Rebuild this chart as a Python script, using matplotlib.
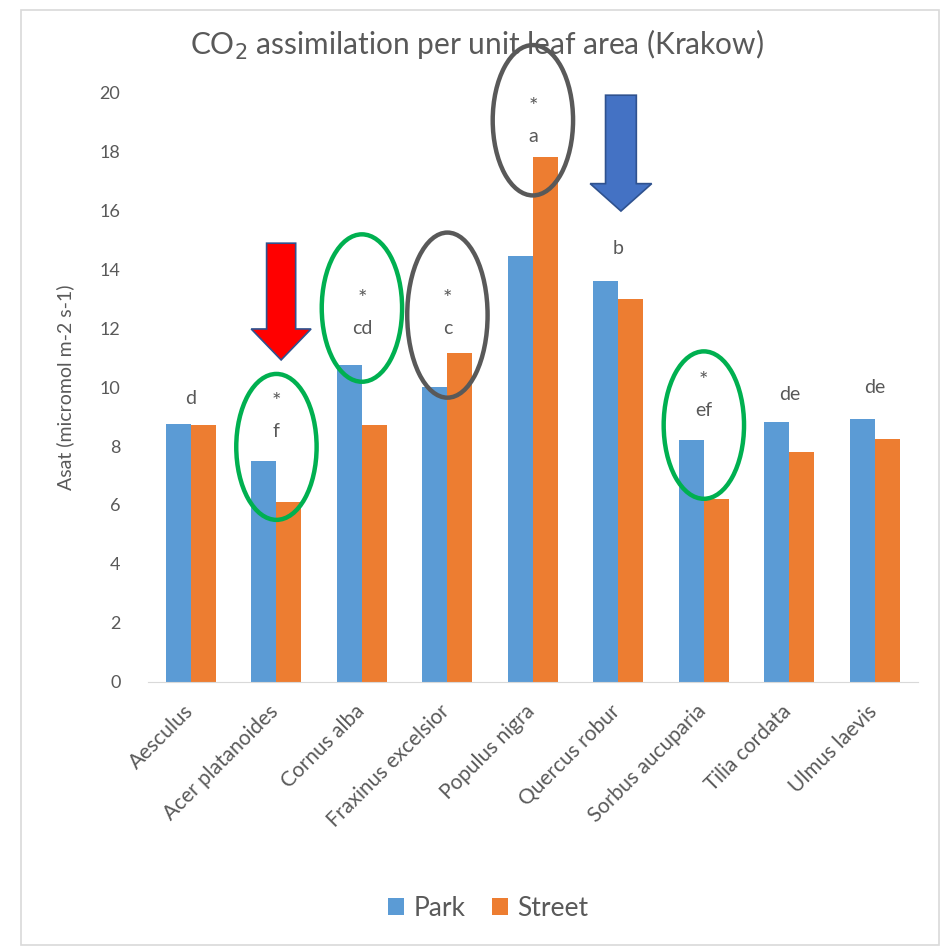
import matplotlib.pyplot as plt
import numpy as np
from matplotlib.patches import Ellipse, Polygon, Rectangle
from matplotlib.transforms import ScaledTranslation

plt.rcParams['font.family'] = ['Lato', 'DejaVu Sans']

species = ["Aesculus", "Acer platanoides", "Cornus alba", "Fraxinus excelsior",
           "Populus nigra", "Quercus robur", "Sorbus aucuparia", "Tilia cordata",
           "Ulmus laevis"]
park = [8.75, 7.5, 10.75, 10.0, 14.45, 13.6, 8.2, 8.8, 8.9]
street = [8.7, 6.1, 8.7, 11.15, 17.8, 13.0, 6.2, 7.8, 8.25]

# significance letters and stars above each pair
letters = ["d", "f", "cd", "c", "a", "b", "ef", "de", "de"]
stars = [False, True, True, True, True, False, True, False, False]
letter_y = [9.6, 8.5, 12.0, 12.0, 18.5, 14.7, 9.2, 9.75, 10.0]

# highlighted groups: (index, centre y, height, colour)
rings = [(1, 7.97, 4.95, "#00B050"), (2, 12.68, 5.0, "#00B050"),
         (3, 12.44, 5.6, "#595959"), (4, 19.05, 5.1, "#595959"),
         (6, 8.71, 5.0, "#00B050")]

park_col = "#5B9BD5"
street_col = "#ED7D31"
grey = "#595959"

fig = plt.figure(figsize=(9.44, 9.51), dpi=100)
ax = fig.add_axes([0.157, 0.283, 0.815, 0.62])

x = np.arange(len(species))
w = 0.293
ax.bar(x - w / 2, park, w, color=park_col, label="Park")
ax.bar(x + w / 2, street, w, color=street_col, label="Street")

ax.set_xlim(-0.5, len(species) - 0.5)
ax.set_ylim(0, 20)
ax.set_yticks(range(0, 21, 2))
ax.tick_params(axis="y", length=0, labelsize=13, labelcolor=grey, pad=20)
ax.tick_params(axis="x", length=0, labelsize=15, labelcolor=grey, pad=14)
ax.set_xticks(x)
ax.set_xticklabels(species, rotation=45, ha="right", rotation_mode="anchor")
shift = ScaledTranslation(-8 / 100, 0, fig.dpi_scale_trans)
for lab in ax.get_xticklabels():
    lab.set_transform(lab.get_transform() + shift)
for s in ["top", "right", "left"]:
    ax.spines[s].set_visible(False)
ax.spines["bottom"].set_color("#D9D9D9")
ax.set_ylabel("Asat (micromol m-2 s-1)", fontsize=14, color=grey, labelpad=18)

for i in x:
    ax.text(i, letter_y[i], letters[i], ha="center", va="center", fontsize=14, color=grey)
    if stars[i]:
        ax.text(i, letter_y[i] + 1.0, "*", ha="center", va="center", fontsize=16, color=grey)

for i, cy, h, c in rings:
    ax.add_patch(Ellipse((i + 0.0, cy), 0.94, h, fill=False, edgecolor=c,
                         linewidth=3.2, clip_on=False))


def down_arrow(cx, top, neck, tip, shaft, head, fc):
    pts = [(cx - shaft, top), (cx + shaft, top), (cx + shaft, neck), (cx + head, neck),
           (cx, tip), (cx - head, neck), (cx - shaft, neck)]
    ax.add_patch(Polygon(pts, closed=True, facecolor=fc, edgecolor="#2F528F",
                         linewidth=1.2, clip_on=False, zorder=5))


down_arrow(1.055, 14.88, 11.97, 10.92, 0.17, 0.35, "#FF0000")
down_arrow(5.03, 19.9, 16.9, 15.97, 0.18, 0.36, "#4472C4")

fig.text(0.505, 0.953, "CO$_2$ assimilation per unit leaf area (Krakow)",
         ha="center", va="center", fontsize=21.5, color=grey)

fig.legend(loc="center", bbox_to_anchor=(0.517, 0.045), ncol=2, frameon=False,
           fontsize=19, handlelength=0.6, handleheight=0.6, columnspacing=1.0,
           handletextpad=0.35, labelcolor=grey)

fig.patches.append(Rectangle((0.022, 0.006), 0.973, 0.984, transform=fig.transFigure,
                             fill=False, edgecolor="#D9D9D9", linewidth=1.2))

fig.savefig("out.png", dpi=100)
